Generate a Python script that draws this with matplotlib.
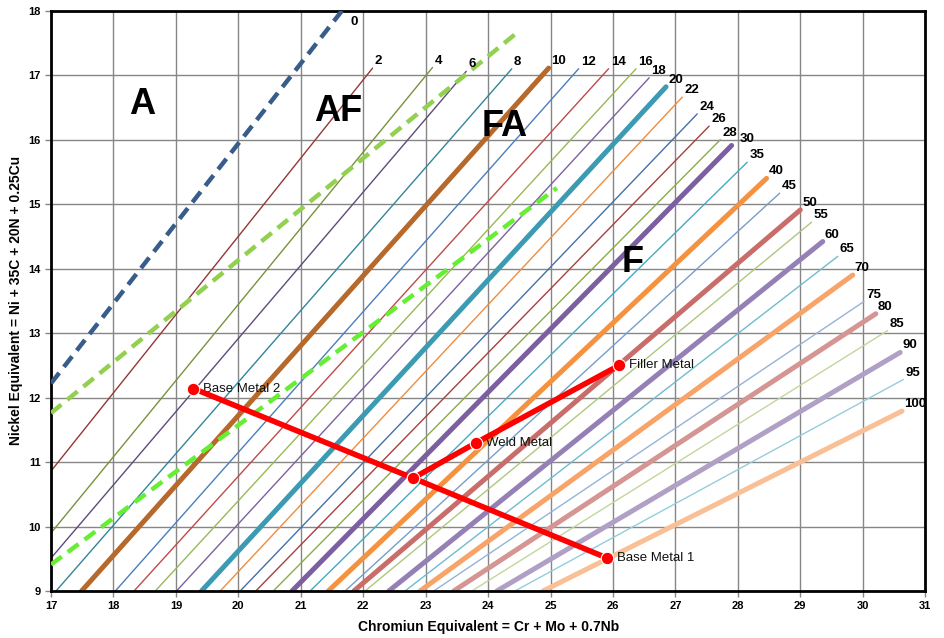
import matplotlib
matplotlib.use('Agg')
import matplotlib.pyplot as plt

# ferrite number iso-lines, each drawn from a start point to an end point (Cr_eq, Ni_eq)
fn_values = [0, 2, 4, 6, 8, 10, 12, 14, 16, 18, 20, 22, 24, 26, 28, 30,
             35, 40, 45, 50, 55, 60, 65, 70, 75, 80, 85, 90, 95, 100]
cr_start = [17.0, 17.0, 17.0, 17.0, 17.08, 17.49, 18.03, 18.33, 18.67, 19.01, 19.41, 19.71,
            20.03, 20.28, 20.56, 20.86, 21.15, 21.44, 21.71, 21.85, 22.03, 22.41, 22.67,
            22.91, 23.13, 23.45, 23.74, 24.14, 24.43, 24.88]
ni_start = [12.22, 10.86, 9.90, 9.51] + [9.0] * 26
cr_end = [21.66, 22.15, 23.11, 23.65, 24.38, 24.97, 25.45, 25.93, 26.37, 26.58, 26.85, 27.11,
          27.35, 27.54, 27.72, 27.90, 28.15, 28.46, 28.67, 29.00, 29.18, 29.36, 29.60,
          29.84, 30.02, 30.21, 30.40, 30.60, 30.65, 30.63]
ni_end = [18.0, 17.11, 17.12, 17.06, 17.10, 17.11, 17.10, 17.10, 17.10, 16.96, 16.82, 16.66,
          16.40, 16.21, 16.00, 15.91, 15.65, 15.40, 15.17, 14.91, 14.72, 14.42, 14.19,
          13.90, 13.49, 13.30, 13.04, 12.70, 12.28, 11.79]
line_colors = ['#385D8A', '#953735', '#77933C', '#604A7B', '#31859C', '#B7692B',
               '#4A7EBB', '#BE4B48', '#98B954', '#7D60A0', '#3C9BB3', '#EE8D3F',
               '#4470A8', '#A6403D', '#8BAB4A', '#7B5FA0', '#46A9C4', '#F5923F',
               '#789DCB', '#C86D6A', '#AFC77D', '#9580B5', '#6FBCD0', '#F8A468',
               '#95B3D7', '#D49593', '#C3D69B', '#B1A0C6', '#93CDDD', '#F9BF95']

# phase boundaries AF/FA and FA/F
upper_bound_cr = [17.0, 24.49]
upper_bound_ni = [11.76, 17.68]
lower_bound_cr = [17.0, 25.10]
lower_bound_ni = [9.41, 15.25]

# region labels
regions = ['A', 'AF', 'FA', 'F']
region_cr = [18.46, 21.6, 24.27, 26.32]
region_ni = [16.54, 16.43, 16.2, 14.1]

# metals
dil_cr = [19.28, 22.80, 25.91]   # base metal 2, mix, base metal 1
dil_ni = [12.14, 10.75, 9.51]
weld_cr = [22.80, 23.81, 26.10]  # mix, weld, filler
weld_ni = [10.75, 11.30, 12.50]
point_names = ['Base Metal 2', 'Base Metal 1', 'Weld Metal', 'Filler Metal']
point_cr = [19.28, 25.91, 23.81, 26.10]
point_ni = [12.14, 9.51, 11.30, 12.50]

# label offsets (points) for the few FN labels that sit apart
label_nudge = {0: (6, -8), 30: (5.5, 5)}

plt.rcParams['font.family'] = ['Liberation Sans', 'DejaVu Sans']

fig = plt.figure(figsize=(9.45, 6.38), dpi=100)
ax = fig.add_axes([0.054, 0.0737, 0.925, 0.9095])

ax.plot(upper_bound_cr, upper_bound_ni, color='#92D050', lw=3.2,
        linestyle=(0, (3, 1.7)), zorder=3)
ax.plot(lower_bound_cr, lower_bound_ni, color='#66EE33', lw=3.2,
        linestyle=(0, (3, 1.7)), zorder=3)

for i, fn in enumerate(fn_values):
    if fn == 0:
        ax.plot([cr_start[i], cr_end[i]], [ni_start[i], ni_end[i]], color=line_colors[i],
                lw=3.2, linestyle=(0, (3, 1.7)), zorder=3)
    else:
        lw = 3.6 if fn % 10 == 0 else 1.0
        ax.plot([cr_start[i], cr_end[i]], [ni_start[i], ni_end[i]], color=line_colors[i],
                lw=lw, solid_capstyle='round', zorder=2)
    off = label_nudge.get(fn, (1.5, 5))
    ax.annotate(str(fn), (cr_end[i], ni_end[i]), xytext=off, textcoords='offset points',
                ha='left', va='center', fontsize=9.5, fontweight='bold')

for name, x, y in zip(regions, region_cr, region_ni):
    ax.text(x, y, name, ha='center', va='center', fontsize=26, fontweight='bold')

ax.plot(dil_cr, dil_ni, color='#FF0000', lw=4, marker='o', markersize=9,
        markeredgecolor='white', markeredgewidth=0.8, zorder=5)
ax.plot(weld_cr, weld_ni, color='#FF0000', lw=4, marker='o', markersize=9,
        markeredgecolor='white', markeredgewidth=0.8, zorder=5)
for name, x, y in zip(point_names, point_cr, point_ni):
    ax.annotate(name, (x, y), xytext=(7, 0), textcoords='offset points',
                ha='left', va='center', fontsize=9.5, color='#111111')

ax.set_xlim(17, 31)
ax.set_ylim(9, 18)
ax.set_xticks(range(17, 32))
ax.set_yticks(range(9, 19))
ax.grid(True, color='#868686', lw=1)
ax.set_axisbelow(True)
for s in ax.spines.values():
    s.set_linewidth(2)
    s.set_color('black')
ax.tick_params(labelsize=8, length=4, width=1, color='#868686')
for lab in ax.get_xticklabels() + ax.get_yticklabels():
    lab.set_fontweight('bold')

ax.set_xlabel('Chromiun Equivalent = Cr + Mo + 0.7Nb', fontsize=10, fontweight='bold', labelpad=6)
ax.set_ylabel('Nickel Equivalent = Ni + 35C + 20N + 0.25Cu', fontsize=10, fontweight='bold', labelpad=4)

fig.savefig('out.png', dpi=100)
